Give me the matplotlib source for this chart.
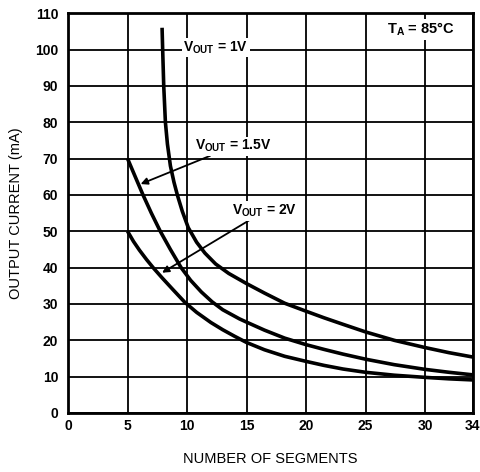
import matplotlib
matplotlib.use('Agg')
import matplotlib.pyplot as plt

# ---- data ----
x_1v = [7.9, 7.95, 8.04, 8.18, 8.35, 8.6, 8.9, 9.2, 9.6, 10.1, 10.8, 11.5, 12.4, 13.5, 15,
        16.5, 18.2, 20, 21.5, 23.1, 25, 27.4, 30, 32, 34]
y_1v = [106, 100, 90, 80, 74, 68, 63.5, 59.8, 55.5, 51, 47, 44, 41, 38.4, 35.6,
        33, 30.2, 28, 26.2, 24.4, 22.3, 20, 18, 16.6, 15.4]

x_15v = [5, 5.7, 6.3, 7, 7.75, 8.6, 9.5, 10.3, 11.2, 12.1, 13, 14.4, 15, 16.5, 18.2,
         20, 21.5, 23.1, 25, 27.4, 30, 32, 34]
y_15v = [70, 64.6, 60, 55, 50, 45, 40, 36.5, 33.3, 30.6, 28.4, 25.9, 25, 22.8, 20.6,
         18.8, 17.5, 16.2, 14.8, 13.3, 12, 11.2, 10.5]

x_2v = [5, 5.5, 6, 6.6, 7.2, 7.9, 8.8, 9.8, 10.8, 12, 13, 14, 15, 16.5, 18.2, 20,
        21.5, 23.1, 25, 27.4, 30, 32, 34]
y_2v = [50, 47.2, 44.8, 42.2, 39.8, 37.2, 34, 30.5, 27.7, 24.9, 22.9, 21.1, 19.4, 17.4, 15.6, 14.2,
        13.1, 12.1, 11.2, 10.4, 9.8, 9.4, 9.1]

x_ticks = [0, 5, 10, 15, 20, 25, 30, 34]
y_ticks = list(range(0, 111, 10))

plt.rcParams['font.family'] = ['Liberation Sans', 'DejaVu Sans']
plt.rcParams['mathtext.fontset'] = 'custom'
plt.rcParams['mathtext.rm'] = 'Liberation Sans:bold'

fig = plt.figure(figsize=(4.8, 4.72), dpi=100)
ax = fig.add_axes([0.1417, 0.125, 0.8433, 0.847])

ax.set_xlim(0, 34)
ax.set_ylim(0, 110)
ax.set_xticks(x_ticks)
ax.set_yticks(y_ticks)
ax.grid(True, color='black', linewidth=1.3)
ax.tick_params(length=0, labelsize=10)
ax.tick_params(axis='x', pad=4)
ax.tick_params(axis='y', pad=7)
for lab in ax.get_xticklabels() + ax.get_yticklabels():
    lab.set_fontweight('bold')
for sp in ax.spines.values():
    sp.set_linewidth(2)

for xs, ys in [(x_1v, y_1v), (x_15v, y_15v), (x_2v, y_2v)]:
    ax.plot(xs, ys, color='black', linewidth=2.6, solid_capstyle='butt',
            solid_joinstyle='round')

box = dict(facecolor='white', edgecolor='none', pad=1)
ax.text(12.4, 100.5, r'V$_{\mathrm{OUT}}$ = 1V', fontsize=10, fontweight='bold',
        ha='center', va='center', bbox=box)
ax.annotate(r'V$_{\mathrm{OUT}}$ = 1.5V', xy=(6.1, 63.0), xytext=(10.7, 73.4),
            fontsize=10, fontweight='bold', ha='left', va='center', bbox=box,
            arrowprops=dict(arrowstyle='-|>', color='black', lw=1.3,
                            shrinkA=0, shrinkB=0, mutation_scale=10))
ax.annotate(r'V$_{\mathrm{OUT}}$ = 2V', xy=(7.9, 38.6), xytext=(13.8, 55.6),
            fontsize=10, fontweight='bold', ha='left', va='center', bbox=box,
            arrowprops=dict(arrowstyle='-|>', color='black', lw=1.3,
                            shrinkA=0, shrinkB=0, mutation_scale=10))
ax.text(26.8, 105.6, r'T$_{\mathrm{A}}$ = 85°C', fontsize=10.5, fontweight='bold',
        ha='left', va='center', bbox=box)

ax.set_xlabel('NUMBER OF SEGMENTS', fontsize=10.5, labelpad=14)
ax.set_ylabel('OUTPUT CURRENT (mA)', fontsize=10.5, labelpad=9)

fig.savefig('out.png', dpi=100)
